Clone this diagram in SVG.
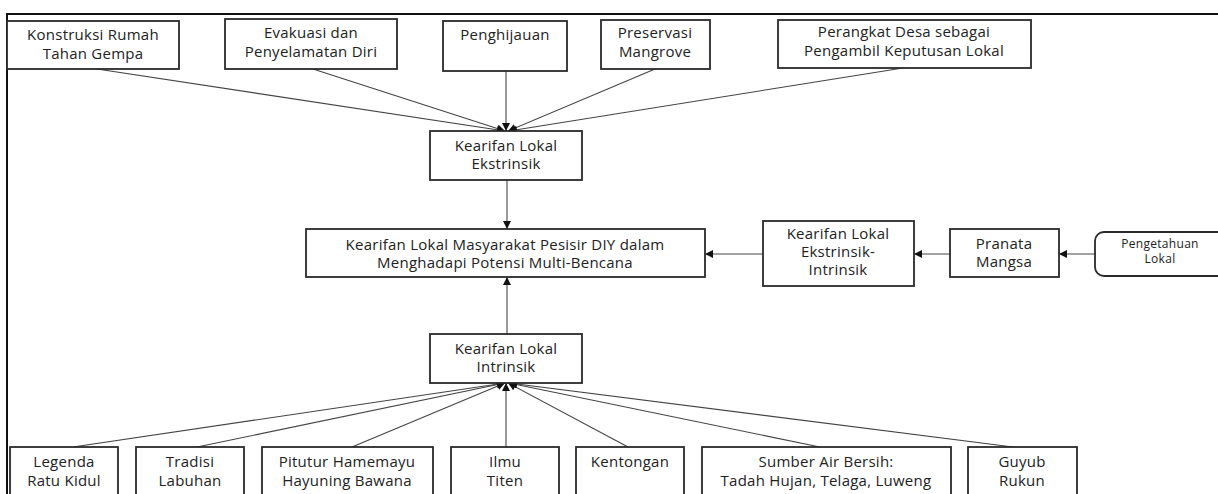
<svg xmlns="http://www.w3.org/2000/svg" width="1218" height="494" viewBox="0 0 1218 494">
<style>
.box{fill:#fff;stroke:#2a2a2a;stroke-width:1.8}
.t{font-family:"Open Sans","Noto Sans",sans-serif;font-size:15px;letter-spacing:0.25px;fill:#222;text-anchor:middle}
.s{font-size:12px;letter-spacing:0.3px}
.c{stroke:#444;stroke-width:1.1;fill:none}
</style>
<defs>
<marker id="ah" viewBox="0 0 10 10" refX="10" refY="5" markerWidth="9" markerHeight="8" markerUnits="userSpaceOnUse" orient="auto">
<path d="M0,0 L10,5 L0,10 z" fill="#111"/>
</marker>
</defs>
<rect x="0" y="0" width="1218" height="494" fill="#fff"/>
<g id="frame">
<path d="M7,494 V14 H1218" fill="none" stroke="#111" stroke-width="2"/>
</g>
<g id="connectors">
<line class="c" x1="97" y1="69" x2="505" y2="131" marker-end="url(#ah)"/>
<line class="c" x1="313" y1="69" x2="505" y2="131" marker-end="url(#ah)"/>
<line class="c" x1="506" y1="71" x2="506" y2="131" marker-end="url(#ah)"/>
<line class="c" x1="655" y1="69" x2="508" y2="131" marker-end="url(#ah)"/>
<line class="c" x1="903" y1="68" x2="509" y2="131" marker-end="url(#ah)"/>
<line class="c" x1="507" y1="180" x2="507" y2="229" marker-end="url(#ah)"/>
<line class="c" x1="507" y1="334" x2="507" y2="277" marker-end="url(#ah)"/>
<line class="c" x1="763" y1="254" x2="705" y2="254" marker-end="url(#ah)"/>
<line class="c" x1="950" y1="254" x2="914" y2="254" marker-end="url(#ah)"/>
<line class="c" x1="1095" y1="254" x2="1059" y2="254" marker-end="url(#ah)"/>
<line class="c" x1="73" y1="447" x2="505" y2="383" marker-end="url(#ah)"/>
<line class="c" x1="197" y1="447" x2="505" y2="383" marker-end="url(#ah)"/>
<line class="c" x1="352" y1="447" x2="505" y2="383" marker-end="url(#ah)"/>
<line class="c" x1="506" y1="447" x2="506" y2="383" marker-end="url(#ah)"/>
<line class="c" x1="628" y1="447" x2="508" y2="383" marker-end="url(#ah)"/>
<line class="c" x1="820" y1="447" x2="509" y2="383" marker-end="url(#ah)"/>
<line class="c" x1="1013" y1="447" x2="509" y2="383" marker-end="url(#ah)"/>
</g>
<g id="n-konstruksi"><rect class="box" x="7" y="21" width="172" height="48"/><text class="t" x="93" y="40">Konstruksi Rumah</text><text class="t" x="93" y="59">Tahan Gempa</text></g>
<g id="n-evakuasi"><rect class="box" x="225" y="19" width="172" height="50"/><text class="t" x="311" y="38">Evakuasi dan</text><text class="t" x="311" y="57">Penyelamatan Diri</text></g>
<g id="n-penghijauan"><rect class="box" x="443" y="21" width="124" height="50"/><text class="t" x="505" y="40">Penghijauan</text></g>
<g id="n-mangrove"><rect class="box" x="601" y="20" width="109" height="49"/><text class="t" x="655" y="38">Preservasi</text><text class="t" x="655" y="57">Mangrove</text></g>
<g id="n-perangkat"><rect class="box" x="778" y="20" width="253" height="48"/><text class="t" x="904" y="37">Perangkat Desa sebagai</text><text class="t" x="904" y="56">Pengambil Keputusan Lokal</text></g>
<g id="n-ekstrinsik"><rect class="box" x="430" y="131" width="152" height="49"/><text class="t" x="506" y="151">Kearifan Lokal</text><text class="t" x="506" y="169">Ekstrinsik</text></g>
<g id="n-central"><rect class="box" x="306" y="229" width="399" height="48"/><text class="t" x="505" y="250">Kearifan Lokal Masyarakat Pesisir DIY dalam</text><text class="t" x="505" y="268">Menghadapi Potensi Multi-Bencana</text></g>
<g id="n-ekin"><rect class="box" x="763" y="221" width="151" height="65"/><text class="t" x="838" y="239">Kearifan Lokal</text><text class="t" x="838" y="257">Ekstrinsik-</text><text class="t" x="838" y="275">Intrinsik</text></g>
<g id="n-pranata"><rect class="box" x="950" y="229" width="109" height="48"/><text class="t" x="1004" y="249">Pranata</text><text class="t" x="1004" y="267">Mangsa</text></g>
<g id="n-pengetahuan"><rect class="box" x="1095" y="232" width="140" height="44" rx="9"/><text class="t s" x="1160" y="248">Pengetahuan</text><text class="t s" x="1160" y="263">Lokal</text></g>
<g id="n-intrinsik"><rect class="box" x="430" y="334" width="152" height="49"/><text class="t" x="506" y="354">Kearifan Lokal</text><text class="t" x="506" y="372">Intrinsik</text></g>
<g id="n-legenda"><rect class="box" x="10" y="447" width="108" height="60"/><text class="t" x="64" y="467">Legenda</text><text class="t" x="64" y="486">Ratu Kidul</text></g>
<g id="n-tradisi"><rect class="box" x="136" y="447" width="108" height="60"/><text class="t" x="190" y="467">Tradisi</text><text class="t" x="190" y="486">Labuhan</text></g>
<g id="n-pitutur"><rect class="box" x="262" y="447" width="171" height="60"/><text class="t" x="347" y="467">Pitutur Hamemayu</text><text class="t" x="347" y="486">Hayuning Bawana</text></g>
<g id="n-ilmu"><rect class="box" x="451" y="447" width="108" height="60"/><text class="t" x="505" y="467">Ilmu</text><text class="t" x="505" y="486">Titen</text></g>
<g id="n-kentongan"><rect class="box" x="576" y="447" width="108" height="60"/><text class="t" x="630" y="467">Kentongan</text></g>
<g id="n-sumber"><rect class="box" x="702" y="447" width="249" height="60"/><text class="t" x="826" y="467">Sumber Air Bersih:</text><text class="t" x="826" y="486">Tadah Hujan, Telaga, Luweng</text></g>
<g id="n-guyub"><rect class="box" x="968" y="447" width="109" height="60"/><text class="t" x="1022" y="467">Guyub</text><text class="t" x="1022" y="486">Rukun</text></g>
</svg>
